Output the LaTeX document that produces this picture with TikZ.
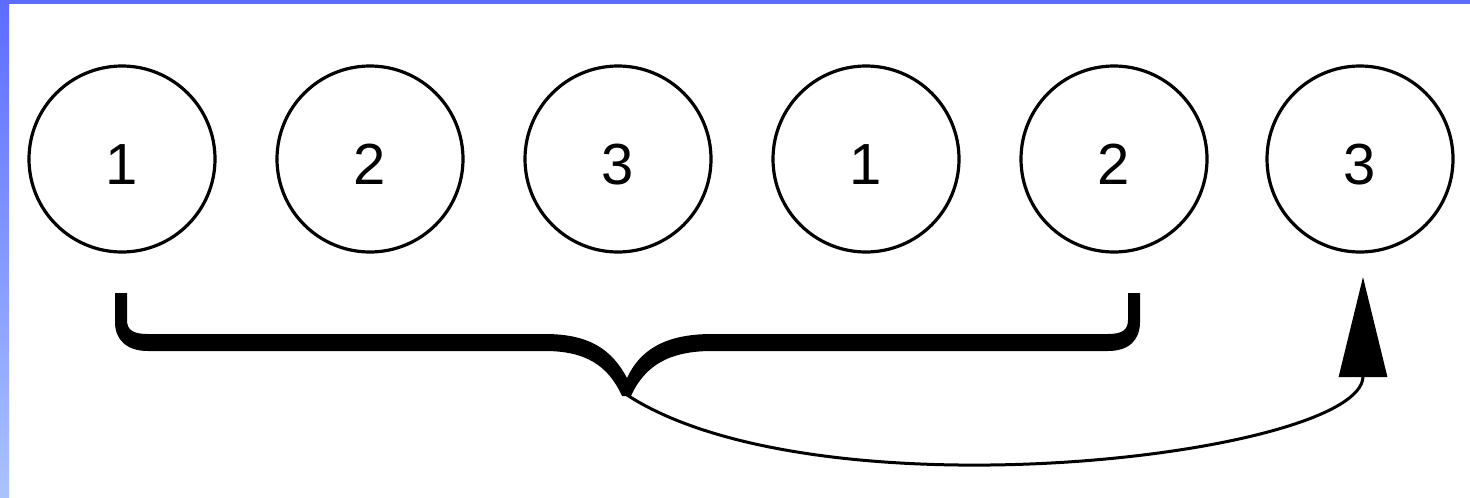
\documentclass[tikz,border=0pt]{standalone}
\usepackage{fontspec}
\setmainfont{Liberation Sans}
\usetikzlibrary{arrows.meta}
\definecolor{bandtop}{RGB}{92,108,255}
\definecolor{bandbot}{RGB}{170,195,255}
\tikzset{
  ball/.style={draw=black, line width=3.2pt, circle, minimum size=186pt, inner sep=0pt,
    font=\fontsize{58}{60}\selectfont, text height=50pt, text depth=0pt},
  link/.style={draw=black, line width=3pt, -{Triangle[length=100pt,width=48pt]}},
}
\begin{document}
\begin{tikzpicture}[x=1pt,y=-1pt]
\useasboundingbox (0,0) rectangle (1470,498);
\fill[white] (0,0) rectangle (1470,498);
\fill[bandtop] (0,0) rectangle (1470,4);
\shade[top color=bandtop, bottom color=bandbot] (0,0) rectangle (9,498);
\node[ball] (c1) at (122,159) {1};
\node[ball] (c2) at (370,159) {2};
\node[ball] (c3) at (618,159) {3};
\node[ball] (c4) at (866,159) {1};
\node[ball] (c5) at (1114,159) {2};
\node[ball] (c6) at (1360,159) {3};
% brace
\fill[black] (115,293) -- (115,322) .. controls (115,340) and (127,351) .. (148,351)
  -- (545,351) .. controls (585,351) and (608,365) .. (622,396) -- (631,396)
  .. controls (645,365) and (670,351) .. (712,351) -- (1108,351)
  .. controls (1129,351) and (1140,340) .. (1140,322) -- (1140,293) -- (1128,293)
  -- (1128,320) .. controls (1128,330) and (1122,334) .. (1108,334) -- (712,334)
  .. controls (665,334) and (640,350) .. (627,378)
  .. controls (612,350) and (590,334) .. (545,334) -- (148,334)
  .. controls (133,334) and (127,330) .. (127,320) -- (127,293) -- cycle;
\coordinate (tip) at (627,395);
\coordinate (target) at (1363,277);
\draw[link] (tip) .. controls (820,520) and (1363,455) .. (target);
\end{tikzpicture}
\end{document}
